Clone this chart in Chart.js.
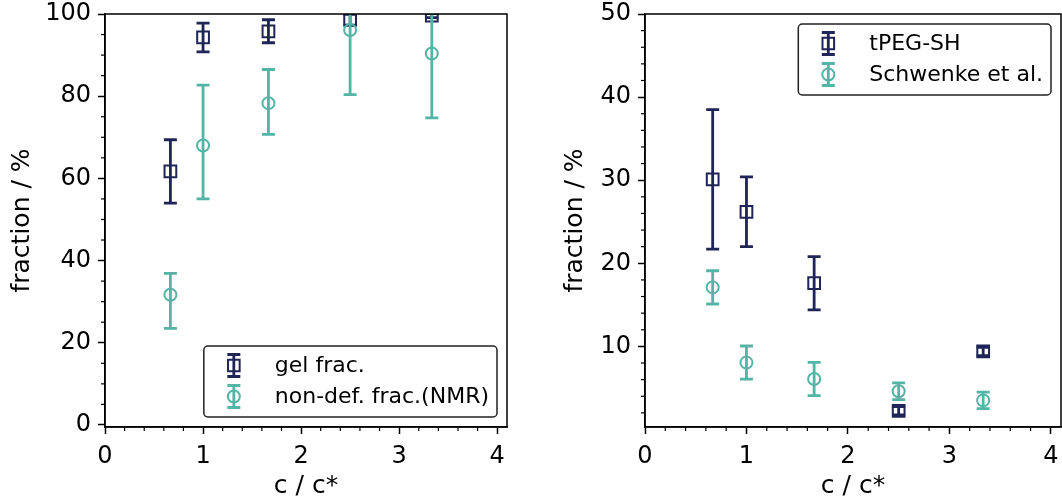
<!DOCTYPE html>
<html>
<head>
<meta charset="utf-8">
<script src="https://cdn.jsdelivr.net/npm/chart.js@4.4.0/dist/chart.umd.min.js"></script>
<style>
  html, body { margin: 0; padding: 0; background: #fff; }
  #wrap { position: relative; width: 1062px; height: 497px; }
  canvas { position: absolute; top: 0; }
  #chartLeft { left: 0; }
  #chartRight { left: 530px; }
</style>
</head>
<body>
<div id="wrap">
  <canvas id="chartLeft" width="530" height="497"></canvas>
  <canvas id="chartRight" width="532" height="497"></canvas>
</div>
<script>
// c / c* values shared by both panels
const cRatio = [0.667, 1, 1.667, 2.5, 3.333];

// left panel
const gelFrac = [61.7, 94.3, 95.8, 98.6, 99.6];
const gelErr = [7.7, 3.5, 2.8, 1.3, 0.5];
const nmrFrac = [31.7, 68.0, 78.3, 96.1, 90.4];
const nmrErrLow = [8.2, 13.0, 7.6, 15.7, 15.7];
const nmrErrHigh = [5.2, 14.7, 8.2, 15.7, 15.7];

// right panel
const tpegFrac = [30.1, 26.2, 17.6, 2.25, 9.4];
const tpegErr = [8.4, 4.2, 3.2, 0.5, 0.5];
const schwFrac = [17.1, 8.05, 6.08, 4.6, 3.5];
const schwErr = [2, 2, 2, 1, 1];

const NAVY = '#1f2556';
const TEAL = '#52b5a5';
const FONT = 'DejaVu Sans';

function points(ys) {
    return cRatio.map((x, i) => ({x: x, y: ys[i]}));
}

function errLine(ctx, x, yTop, yBot, cap) {
    ctx.beginPath();
    ctx.moveTo(x, yTop); ctx.lineTo(x, yBot);
    ctx.moveTo(x - cap, yTop); ctx.lineTo(x + cap, yTop);
    ctx.moveTo(x - cap, yBot); ctx.lineTo(x + cap, yBot);
    ctx.stroke();
}

// error bars drawn right before each dataset's markers
const errorBars = {
    id: 'errorBars',
    beforeDatasetDraw(chart, args) {
        const ds = chart.data.datasets[args.index];
        const {ctx, chartArea, scales} = chart;
        ctx.save();
        ctx.beginPath();
        ctx.rect(chartArea.left, chartArea.top, chartArea.width, chartArea.height);
        ctx.clip();
        ctx.strokeStyle = ds.borderColor;
        ctx.lineWidth = 2.8;
        ds.data.forEach((p, j) => {
            const x = scales.x.getPixelForValue(p.x);
            const yTop = scales.y.getPixelForValue(p.y + ds.errHigh[j]);
            const yBot = scales.y.getPixelForValue(p.y - ds.errLow[j]);
            errLine(ctx, x, yTop, yBot, 6.5);
        });
        ctx.restore();
    }
};

// minor ticks, frame and the legend box
const decorations = {
    id: 'decorations',
    afterDraw(chart, args, opts) {
        const {ctx, chartArea, scales} = chart;
        ctx.save();
        ctx.strokeStyle = '#000';
        ctx.lineWidth = 1.2;
        const sx = scales.x, sy = scales.y;
        for (let v = sx.min; v <= sx.max + 1e-9; v += opts.xMinor) {
            const r = Math.round(v * 1000) / 1000;
            if (Math.abs(r - Math.round(r)) < 1e-6) continue;
            const px = sx.getPixelForValue(r);
            ctx.beginPath();
            ctx.moveTo(px, chartArea.bottom);
            ctx.lineTo(px, chartArea.bottom + 4);
            ctx.stroke();
        }
        const first = Math.ceil(sy.min / opts.yMinor) * opts.yMinor;
        for (let v = first; v <= sy.max + 1e-9; v += opts.yMinor) {
            if (Math.abs(v / opts.yMajor - Math.round(v / opts.yMajor)) < 1e-6) continue;
            const py = sy.getPixelForValue(v);
            ctx.beginPath();
            ctx.moveTo(chartArea.left, py);
            ctx.lineTo(chartArea.left - 4, py);
            ctx.stroke();
        }
        ctx.lineWidth = 1.5;
        ctx.strokeRect(chartArea.left, chartArea.top, chartArea.width, chartArea.height);

        // legend
        ctx.font = '22px "' + FONT + '"';
        const items = chart.data.datasets;
        const textW = Math.max(...items.map(d => ctx.measureText(d.label).width));
        const boxW = 71 + textW + 8;
        const boxH = 71;
        const boxX = chartArea.right - 10 - boxW;
        const boxY = opts.legendTop ? chartArea.top + 10 : chartArea.bottom - 10 - boxH;
        ctx.beginPath();
        ctx.roundRect(boxX, boxY, boxW, boxH, 4);
        ctx.fillStyle = '#fff';
        ctx.fill();
        ctx.strokeStyle = '#222';
        ctx.lineWidth = 1.5;
        ctx.stroke();
        items.forEach((d, i) => {
            const cy = boxY + 19.5 + i * 31;
            const mx = boxX + 30;
            ctx.strokeStyle = d.borderColor;
            ctx.lineWidth = 2.8;
            errLine(ctx, mx, cy - 11, cy + 11, 6.5);
            ctx.lineWidth = 2;
            ctx.beginPath();
            if (d.pointStyle === 'rect') {
                ctx.rect(mx - 5.8, cy - 5.8, 11.6, 11.6);
            } else {
                ctx.arc(mx, cy, 6, 0, Math.PI * 2);
            }
            ctx.stroke();
            ctx.fillStyle = '#000';
            ctx.textBaseline = 'middle';
            ctx.fillText(d.label, mx + 41, cy + 1);
        });
        ctx.restore();
    }
};

function makeDataset(label, ys, low, high, color, style, order) {
    return {
        label: label,
        data: points(ys),
        errLow: low,
        errHigh: high,
        borderColor: color,
        backgroundColor: 'rgba(0,0,0,0)',
        pointStyle: style,
        pointRadius: style === 'rect' ? 8.3 : 6,
        pointBorderWidth: 2,
        showLine: false,
        clip: 0,
        order: order
    };
}

function noPad(s) {
    s.paddingTop = 0; s.paddingBottom = 0;
    s.paddingLeft = 0; s.paddingRight = 0;
}

function makeChart(id, datasets, cfg) {
    const ctx = document.getElementById(id).getContext('2d');
    return new Chart(ctx, {
        type: 'scatter',
        data: {datasets: datasets},
        options: {
            responsive: false,
            animation: false,
            devicePixelRatio: 1,
            layout: {padding: cfg.padding, autoPadding: false},
            plugins: {
                legend: {display: false},
                tooltip: {enabled: false},
                decorations: {xMinor: 0.2, yMinor: cfg.yMinor, yMajor: cfg.yStep, legendTop: cfg.legendTop}
            },
            scales: {
                x: {
                    type: 'linear',
                    position: 'bottom',
                    min: 0,
                    max: 4.1,
                    afterFit: s => { s.height = 70; noPad(s); },
                    ticks: {stepSize: 1, includeBounds: false, color: '#000', padding: 8, font: {family: FONT, size: 24}},
                    grid: {drawOnChartArea: false, drawTicks: true, tickLength: 7, tickColor: '#000', tickWidth: 1.5},
                    border: {display: true, color: '#000', width: 1.5},
                    title: {display: true, text: 'c / c*', color: '#000', padding: {top: 0, bottom: -4}, font: {family: FONT, size: 25}}
                },
                y: {
                    type: 'linear',
                    position: 'left',
                    min: cfg.yMin,
                    max: cfg.yMax,
                    afterFit: s => { s.width = cfg.yWidth; noPad(s); },
                    ticks: {stepSize: cfg.yStep, includeBounds: false, color: '#000', padding: 7, font: {family: FONT, size: 24}},
                    grid: {drawOnChartArea: false, drawTicks: true, tickLength: 7, tickColor: '#000', tickWidth: 1.5},
                    border: {display: true, color: '#000', width: 1.5},
                    title: {display: true, text: 'fraction / %', color: '#000', padding: 0, font: {family: FONT, size: 25}}
                }
            }
        },
        plugins: [errorBars, decorations]
    });
}

makeChart('chartLeft', [
    makeDataset('gel frac.', gelFrac, gelErr, gelErr, NAVY, 'rect', 1),
    makeDataset('non-def. frac.(NMR)', nmrFrac, nmrErrLow, nmrErrHigh, TEAL, 'circle', 0)
], {padding: {left: 7, top: 14, right: 23, bottom: 0}, yWidth: 98, yMin: -0.5, yMax: 100, yStep: 20, yMinor: 5, legendTop: false});

makeChart('chartRight', [
    makeDataset('tPEG-SH', tpegFrac, tpegErr, tpegErr, NAVY, 'rect', 1),
    makeDataset('Schwenke et al.', schwFrac, schwErr, schwErr, TEAL, 'circle', 0)
], {padding: {left: 30, top: 14, right: 1, bottom: 0}, yWidth: 85, yMin: 0.3, yMax: 50, yStep: 10, yMinor: 2, legendTop: true});
</script>
</body>
</html>
